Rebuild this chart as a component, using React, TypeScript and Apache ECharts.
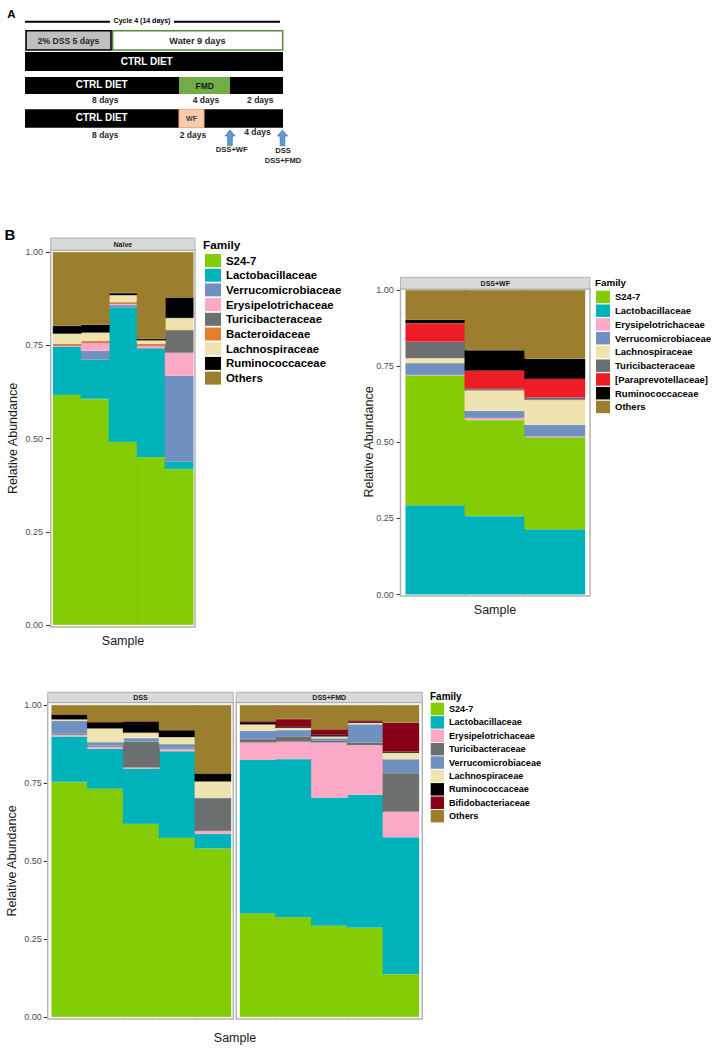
import React, { useEffect, useRef } from "react";
import * as echarts from "echarts";

// ---------- DATA ----------
const naiveSamples = ["N1", "N2", "N3", "N4", "N5"];
const wfSamples = ["W1", "W2", "W3"];
const dssSamples = ["D1", "D2", "D3", "D4", "D5"];
const fmdSamples = ["F1", "F2", "F3", "F4", "F5"];

// stacking order (bottom -> top)
const naiveFamilies = ["S24-7", "Lactobacillaceae", "Verrucomicrobiaceae", "Erysipelotrichaceae", "Turicibacteraceae", "Bacteroidaceae", "Lachnospiraceae", "Ruminococcaceae", "Others"];
const naiveData: number[][] = [
  [0.617, 0.606, 0.491, 0.450, 0.418],
  [0.129, 0.105, 0.360, 0.292, 0.020],
  [0.000, 0.024, 0.007, 0.000, 0.230],
  [0.004, 0.022, 0.004, 0.007, 0.062],
  [0.000, 0.000, 0.000, 0.000, 0.061],
  [0.004, 0.005, 0.004, 0.005, 0.000],
  [0.027, 0.022, 0.018, 0.009, 0.032],
  [0.021, 0.021, 0.006, 0.004, 0.055],
  [0.198, 0.195, 0.110, 0.233, 0.122],
];
const naiveLegend = naiveFamilies;

const wfFamilies = ["Lactobacillaceae", "S24-7", "Erysipelotrichaceae", "Verrucomicrobiaceae", "Lachnospiraceae", "Turicibacteraceae", "[Paraprevotellaceae]", "Ruminococcaceae", "Others"];
const wfData: number[][] = [
  [0.293, 0.258, 0.214],
  [0.426, 0.315, 0.302],
  [0.002, 0.007, 0.003],
  [0.039, 0.023, 0.038],
  [0.016, 0.067, 0.082],
  [0.054, 0.005, 0.008],
  [0.061, 0.060, 0.061],
  [0.011, 0.067, 0.066],
  [0.098, 0.198, 0.226],
];
const wfLegend = ["S24-7", "Lactobacillaceae", "Erysipelotrichaceae", "Verrucomicrobiaceae", "Lachnospiraceae", "Turicibacteraceae", "[Paraprevotellaceae]", "Ruminococcaceae", "Others"];

const dssFamilies = ["S24-7", "Lactobacillaceae", "Erysipelotrichaceae", "Turicibacteraceae", "Verrucomicrobiaceae", "Lachnospiraceae", "Ruminococcaceae", "Bifidobacteriaceae", "Others"];
const dssData: number[][] = [
  [0.753, 0.732, 0.619, 0.574, 0.540],
  [0.146, 0.128, 0.177, 0.278, 0.047],
  [0.005, 0.006, 0.004, 0.007, 0.009],
  [0.003, 0.004, 0.082, 0.003, 0.106],
  [0.042, 0.011, 0.012, 0.013, 0.000],
  [0.005, 0.044, 0.017, 0.022, 0.053],
  [0.015, 0.020, 0.036, 0.022, 0.025],
  [0.000, 0.000, 0.000, 0.000, 0.000],
  [0.031, 0.055, 0.053, 0.081, 0.220],
];
const fmdData: number[][] = [
  [0.332, 0.320, 0.293, 0.286, 0.137],
  [0.492, 0.507, 0.410, 0.426, 0.439],
  [0.056, 0.055, 0.177, 0.159, 0.082],
  [0.011, 0.018, 0.005, 0.009, 0.123],
  [0.026, 0.020, 0.008, 0.058, 0.045],
  [0.021, 0.007, 0.006, 0.005, 0.021],
  [0.007, 0.003, 0.005, 0.003, 0.003],
  [0.003, 0.025, 0.018, 0.005, 0.093],
  [0.052, 0.045, 0.078, 0.049, 0.057],
];
const dssLegend = dssFamilies;

const yTicks = [0, 0.25, 0.5, 0.75, 1];

// ---------- STYLES ----------
const COLORS: Record<string, string> = {
  "S24-7": "#84CC06",
  Lactobacillaceae: "#00B3BA",
  Verrucomicrobiaceae: "#7091C0",
  Erysipelotrichaceae: "#FBA9C7",
  Turicibacteraceae: "#6B6F6F",
  Bacteroidaceae: "#E57F2E",
  Lachnospiraceae: "#EFE4B0",
  Ruminococcaceae: "#000000",
  "[Paraprevotellaceae]": "#EE1C24",
  Bifidobacteriaceae: "#880015",
  Others: "#9B7F2F",
};

const FF = '"Liberation Sans", Arial, sans-serif';

function txt(x: number, y: number, text: string, font: string, fill = "#000", align = "center", rotation = 0) {
  return {
    type: "text",
    x,
    y,
    rotation,
    z: 100,
    silent: true,
    style: { text, font, fill, textAlign: align, textVerticalAlign: "middle", align, verticalAlign: "middle" },
  };
}
function rect(x: number, y: number, w: number, h: number, fill: string, stroke?: string, lw = 1) {
  return {
    type: "rect",
    z: 90,
    silent: true,
    shape: { x, y, width: w, height: h },
    style: { fill, stroke: stroke || null, lineWidth: stroke ? lw : 0 },
  };
}
function line(x1: number, y1: number, x2: number, y2: number, lw = 2) {
  return { type: "line", z: 90, silent: true, shape: { x1, y1, x2, y2 }, style: { stroke: "#000", lineWidth: lw } };
}
function arrow(cx: number, yt: number, yb: number) {
  return {
    type: "polygon",
    z: 95,
    silent: true,
    shape: {
      points: [
        [cx - 2.3, yb], [cx - 2.3, yt + 6], [cx - 5, yt + 6], [cx, yt], [cx + 5, yt + 6], [cx + 2.3, yt + 6], [cx + 2.3, yb],
      ],
    },
    style: { fill: "#5B9BD5", stroke: "#41719C", lineWidth: 0.7 },
  };
}

function bars(families: string[], rows: number[][], idx: number) {
  return families.map((f, i) => ({
    type: "bar",
    name: f,
    stack: "s" + idx,
    xAxisIndex: idx,
    yAxisIndex: idx,
    barWidth: "103%",
    barGap: "-3%",
    silent: true,
    itemStyle: { color: COLORS[f], borderColor: COLORS[f], borderWidth: 0.4 },
    data: rows[i],
  }));
}

function yAxis(idx: number, offset: number, margin: number, show = true) {
  return {
    type: "value",
    gridIndex: idx,
    min: yTicks[0],
    max: yTicks[yTicks.length - 1],
    interval: 0.25,
    offset,
    show,
    splitLine: { show: false },
    axisLine: { show: false },
    axisTick: { show: true, length: 4, lineStyle: { color: "#333", width: 1 } },
    axisLabel: { fontSize: 9, fontFamily: FF, color: "#4d4d4d", margin, formatter: (v: number) => v.toFixed(2) },
  };
}
function xAxis(idx: number, data: string[]) {
  return {
    type: "category",
    gridIndex: idx,
    data,
    boundaryGap: true,
    axisLine: { show: false },
    axisTick: { show: false },
    axisLabel: { show: false },
    splitLine: { show: false },
  };
}
function legend(data: string[], left: number, top: number, iw: number, ih: number, gap: number, fs: number) {
  return {
    data,
    orient: "vertical",
    left,
    top,
    padding: 0,
    itemWidth: iw,
    itemHeight: ih,
    itemGap: gap,
    icon: "rect",
    selectedMode: false,
    itemStyle: { borderWidth: 0 },
    textStyle: { fontFamily: FF, fontWeight: "bold", fontSize: fs, color: "#000", lineHeight: ih },
  };
}

export default function App() {
  const ref = useRef<HTMLDivElement>(null);
  useEffect(() => {
    if (!ref.current) return;
    const chart = echarts.init(ref.current, null, { renderer: "svg" });

    const bold = (s: number) => `bold ${s}px ${FF}`;
    const graphics: any[] = [
      // ----- Panel A -----
      txt(11.5, 14, "A", bold(11.5), "#000"),
      line(25, 21.7, 110, 21.7, 2),
      line(174, 21.7, 280, 21.7, 2),
      txt(142, 20.5, "Cycle 4 (14 days)", bold(7), "#000"),
      rect(26, 30.7, 85, 19.3, "#BFBFBF", "#000", 1.6),
      txt(68.5, 40.5, "2% DSS 5 days", bold(8.6), "#262626"),
      rect(112.7, 30.7, 170, 19.3, "#FFFFFF", "#5A8A3A", 1.5),
      txt(197.5, 40.5, "Water 9 days", bold(9.2), "#262626"),
      rect(25, 52, 258, 19, "#000"),
      txt(146.7, 61.3, "CTRL DIET", bold(10), "#fff"),
      rect(25, 77, 258, 17, "#000"),
      rect(179, 77, 51, 17, "#70AD47"),
      txt(101.7, 84.8, "CTRL DIET", bold(10), "#fff"),
      txt(204.7, 86, "FMD", bold(8.6), "#1a1a1a"),
      txt(105.3, 99.5, "8 days", bold(8.5), "#262626"),
      txt(206, 99.5, "4 days", bold(8.5), "#262626"),
      txt(260.3, 99.5, "2 days", bold(8.5), "#262626"),
      rect(25, 109.3, 258, 18.4, "#000"),
      rect(179, 109.3, 25, 18.4, "#F8CBAD", "#F4B183", 1),
      txt(101.7, 117.8, "CTRL DIET", bold(10), "#fff"),
      txt(191.5, 118.5, "WF", bold(7), "#404040"),
      txt(105.3, 134.5, "8 days", bold(8.5), "#262626"),
      txt(193, 134.8, "2 days", bold(8.5), "#262626"),
      txt(257.5, 132, "4 days", bold(8.5), "#262626"),
      arrow(230, 130, 145.7),
      arrow(282.5, 130, 145.7),
      txt(231.7, 149.7, "DSS+WF", bold(7.6), "#262626"),
      txt(283, 150.5, "DSS", bold(7.6), "#262626"),
      txt(283, 160.3, "DSS+FMD", bold(7.6), "#262626"),

      // ----- Panel B -----
      txt(10, 234.5, "B", bold(15), "#000"),

      // Naive
      rect(50.7, 238, 144.3, 12, "#D9D9D9", "#A6A6A6", 0.8),
      txt(122.9, 244.2, "Naïve", bold(7), "#1a1a1a"),
      { ...rect(50.7, 250, 144.3, 377, "none", "#B3B3B3", 1.5), z: 80 },
      txt(13, 438.5, "Relative Abundance", `12.5px ${FF}`, "#1a1a1a", "center", Math.PI / 2),
      txt(123, 641, "Sample", `12.5px ${FF}`, "#1a1a1a"),
      txt(203, 244.5, "Family", bold(11.8), "#000", "left"),

      // DSS+WF
      rect(400.5, 277.3, 189.5, 11.7, "#D9D9D9", "#A6A6A6", 0.8),
      txt(495.3, 283.2, "DSS+WF", bold(7), "#1a1a1a"),
      { ...rect(400.5, 289, 189.5, 307, "none", "#B3B3B3", 1.5), z: 80 },
      txt(368.5, 442, "Relative Abundance", `12.5px ${FF}`, "#1a1a1a", "center", Math.PI / 2),
      txt(495, 610, "Sample", `12.5px ${FF}`, "#1a1a1a"),
      txt(595, 282, "Family", bold(9.8), "#000", "left"),

      // DSS / DSS+FMD
      rect(47.7, 692.3, 185.6, 10.2, "#D9D9D9", "#A6A6A6", 0.8),
      txt(140.5, 697.5, "DSS", bold(7), "#1a1a1a"),
      rect(236.2, 692.3, 186.1, 10.2, "#D9D9D9", "#A6A6A6", 0.8),
      txt(329.2, 697.5, "DSS+FMD", bold(7), "#1a1a1a"),
      { ...rect(47.7, 702.5, 185.6, 316.5, "none", "#B3B3B3", 1.5), z: 80 },
      { ...rect(236.2, 702.5, 186.1, 316.5, "none", "#B3B3B3", 1.5), z: 80 },
      txt(12, 861, "Relative Abundance", `12.5px ${FF}`, "#1a1a1a", "center", Math.PI / 2),
      txt(235, 1038, "Sample", `12.5px ${FF}`, "#1a1a1a"),
      txt(430, 696.7, "Family", bold(10), "#000", "left"),
    ];

    chart.setOption({
      animation: false,
      backgroundColor: "#fff",
      grid: [
        { left: 53, top: 252, width: 140.3, height: 373 },
        { left: 405.7, top: 290, width: 179.3, height: 304.5 },
        { left: 51.7, top: 705, width: 179.3, height: 312 },
        { left: 240, top: 705, width: 179, height: 312 },
      ],
      xAxis: [xAxis(0, naiveSamples), xAxis(1, wfSamples), xAxis(2, dssSamples), xAxis(3, fmdSamples)],
      yAxis: [yAxis(0, 3, 7), yAxis(1, 5, 7), yAxis(2, 4, 6), yAxis(3, 0, 6, false)],
      legend: [
        legend(naiveLegend, 205, 254, 16, 13, 1.7, 11.4),
        legend(wfLegend, 596, 290.7, 14, 12.5, 1.25, 9.5),
        legend(dssLegend, 430.7, 702.7, 13.3, 12.5, 0.9, 9.1),
      ],
      series: [
        ...bars(naiveFamilies, naiveData, 0),
        ...bars(wfFamilies, wfData, 1),
        ...bars(dssFamilies, dssData, 2),
        ...bars(dssFamilies, fmdData, 3),
      ],
      graphic: { elements: graphics },
    });
    return () => chart.dispose();
  }, []);
  return (
    <div
      ref={ref}
      style={{ position: "absolute", left: 0, top: 0, width: 721, height: 1050, background: "#fff" }}
    />
  );
}
